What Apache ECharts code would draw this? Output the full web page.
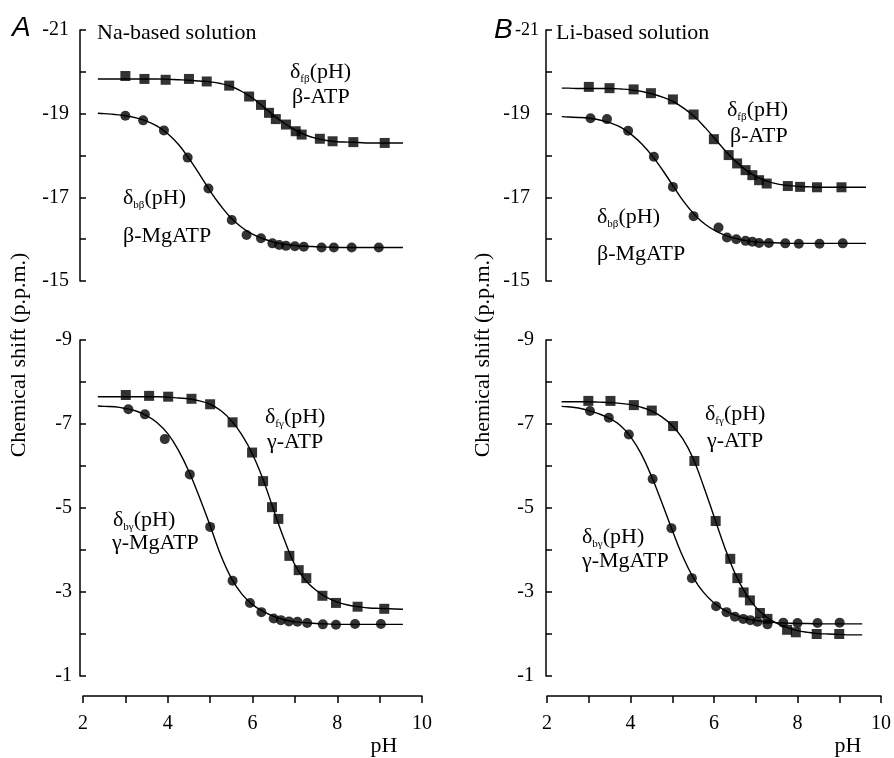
<!DOCTYPE html>
<html><head><meta charset="utf-8">
<script src="https://cdn.jsdelivr.net/npm/echarts@6.0.0/dist/echarts.min.js"></script>
<style>html,body{margin:0;padding:0;background:#fff}#c{width:894px;height:758px}</style>
</head><body><div id="c"></div>
<script>
// ---- data (pH, chemical shift in p.p.m.) ----
// Panel A: Na-based solution
const naBetaFreePts = [[3.0,-19.90],[3.45,-19.83],[3.95,-19.81],[4.5,-19.83],[4.92,-19.77],[5.45,-19.67],[5.92,-19.41],[6.2,-19.21],[6.39,-19.02],[6.55,-18.87],[6.79,-18.74],[7.02,-18.58],[7.16,-18.50],[7.59,-18.40],[7.89,-18.34],[8.38,-18.32],[9.12,-18.30]];
const naBetaMgPts = [[3.0,-18.95],[3.42,-18.84],[3.91,-18.60],[4.47,-17.95],[4.96,-17.21],[5.51,-16.46],[5.86,-16.10],[6.2,-16.02],[6.47,-15.90],[6.63,-15.86],[6.79,-15.84],[7.0,-15.83],[7.21,-15.82],[7.63,-15.80],[7.92,-15.80],[8.34,-15.80],[8.98,-15.80]];
const naGammaFreePts = [[3.01,-7.69],[3.56,-7.67],[4.01,-7.65],[4.56,-7.60],[5.0,-7.47],[5.53,-7.04],[5.99,-6.32],[6.25,-5.64],[6.46,-5.02],[6.61,-4.74],[6.87,-3.86],[7.09,-3.52],[7.27,-3.33],[7.65,-2.91],[7.97,-2.74],[8.48,-2.65],[9.11,-2.60]];
const naGammaMgPts = [[3.07,-7.35],[3.46,-7.23],[3.93,-6.64],[4.52,-5.80],[5.0,-4.55],[5.53,-3.27],[5.94,-2.74],[6.21,-2.52],[6.5,-2.37],[6.67,-2.33],[6.86,-2.30],[7.06,-2.29],[7.29,-2.26],[7.66,-2.23],[7.97,-2.22],[8.42,-2.24],[9.03,-2.24]];
// Panel B: Li-based solution
const liBetaFreePts = [[2.99,-19.64],[3.48,-19.61],[4.05,-19.58],[4.46,-19.49],[4.98,-19.34],[5.47,-18.98],[5.95,-18.39],[6.3,-18.01],[6.5,-17.81],[6.7,-17.65],[6.86,-17.53],[7.02,-17.41],[7.2,-17.33],[7.7,-17.27],[7.99,-17.25],[8.39,-17.24],[8.97,-17.24]];
const liBetaMgPts = [[3.03,-18.89],[3.42,-18.87],[3.92,-18.59],[4.53,-17.97],[4.98,-17.25],[5.47,-16.55],[6.06,-16.28],[6.26,-16.04],[6.48,-16.00],[6.7,-15.96],[6.86,-15.94],[7.02,-15.91],[7.25,-15.91],[7.64,-15.90],[7.96,-15.89],[8.45,-15.89],[9.0,-15.90]];
const liGammaFreePts = [[2.99,-7.55],[3.52,-7.55],[4.08,-7.45],[4.51,-7.32],[5.02,-6.95],[5.53,-6.12],[6.04,-4.69],[6.39,-3.79],[6.56,-3.33],[6.71,-2.99],[6.86,-2.80],[7.1,-2.50],[7.28,-2.36],[7.75,-2.10],[7.96,-2.04],[8.46,-2.00],[9.0,-2.00]];
const liGammaMgPts = [[3.03,-7.31],[3.48,-7.15],[3.96,-6.75],[4.53,-5.69],[4.98,-4.52],[5.47,-3.33],[6.05,-2.66],[6.3,-2.52],[6.5,-2.41],[6.7,-2.36],[6.87,-2.33],[7.04,-2.29],[7.28,-2.23],[7.66,-2.27],[8.0,-2.26],[8.48,-2.26],[9.01,-2.27]];

// fitted curves at these pH values
const fitX = [2.35,2.5,2.75,3,3.25,3.5,3.75,4,4.25,4.5,4.75,5,5.25,5.5,5.75,6,6.25,6.5,6.75,7,7.25,7.5,7.75,8,8.25,8.5,8.75,9,9.25,9.55];
const naBetaFreeFit = [-19.83,-19.83,-19.83,-19.83,-19.83,-19.83,-19.83,-19.82,-19.81,-19.80,-19.78,-19.76,-19.72,-19.65,-19.53,-19.37,-19.17,-18.96,-18.77,-18.61,-18.49,-18.41,-18.36,-18.33,-18.32,-18.31,-18.30,-18.30,-18.30,-18.30];
const naBetaMgFit = [-19.01,-19.00,-18.98,-18.95,-18.90,-18.82,-18.70,-18.52,-18.27,-17.93,-17.55,-17.15,-16.80,-16.50,-16.28,-16.12,-16.01,-15.93,-15.88,-15.85,-15.83,-15.82,-15.81,-15.80,-15.80,-15.80,-15.80,-15.80,-15.80,-15.80];
const naGammaFreeFit = [-7.65,-7.65,-7.65,-7.65,-7.65,-7.65,-7.65,-7.64,-7.62,-7.60,-7.55,-7.47,-7.32,-7.08,-6.74,-6.28,-5.68,-4.95,-4.25,-3.65,-3.28,-3.04,-2.87,-2.76,-2.69,-2.65,-2.62,-2.61,-2.60,-2.59];
const naGammaMgFit = [-7.43,-7.42,-7.41,-7.37,-7.31,-7.20,-7.03,-6.77,-6.38,-5.87,-5.25,-4.58,-3.88,-3.33,-2.95,-2.70,-2.54,-2.42,-2.34,-2.29,-2.27,-2.25,-2.24,-2.23,-2.23,-2.23,-2.23,-2.23,-2.23,-2.23];
const liBetaFreeFit = [-19.61,-19.61,-19.60,-19.60,-19.60,-19.60,-19.59,-19.57,-19.53,-19.47,-19.39,-19.28,-19.12,-18.92,-18.66,-18.37,-18.08,-17.83,-17.62,-17.47,-17.37,-17.31,-17.28,-17.26,-17.25,-17.24,-17.24,-17.24,-17.24,-17.24];
const liBetaMgFit = [-18.93,-18.92,-18.91,-18.89,-18.85,-18.78,-18.67,-18.50,-18.27,-17.98,-17.63,-17.25,-16.88,-16.58,-16.35,-16.19,-16.08,-16.01,-15.96,-15.93,-15.92,-15.91,-15.90,-15.90,-15.90,-15.90,-15.90,-15.90,-15.90,-15.90];
const liGammaFreeFit = [-7.53,-7.53,-7.53,-7.53,-7.52,-7.51,-7.49,-7.46,-7.40,-7.31,-7.17,-6.96,-6.65,-6.18,-5.52,-4.80,-4.08,-3.45,-2.98,-2.64,-2.41,-2.26,-2.15,-2.08,-2.04,-2.01,-2.00,-1.99,-1.98,-1.98];
const liGammaMgFit = [-7.42,-7.41,-7.38,-7.32,-7.24,-7.13,-6.97,-6.70,-6.30,-5.76,-5.13,-4.47,-3.85,-3.35,-2.99,-2.74,-2.57,-2.45,-2.37,-2.32,-2.29,-2.27,-2.26,-2.25,-2.25,-2.24,-2.24,-2.24,-2.24,-2.24];

const xRange = [2, 10];
const betaRange = [-21, -15];
const gammaRange = [-9, -1];
const yTitle = 'Chemical shift (p.p.m.)';
const xTitle = 'pH';

// ---- styling ----
const SERIF = '"Liberation Serif","Times New Roman",serif';
const INK = '#000';

const grids = [
  {left: 83, top: 30, width: 339, height: 251},
  {left: 83, top: 340, width: 339, height: 336},
  {left: 547, top: 30, width: 338, height: 251},
  {left: 547, top: 340, width: 338, height: 336}
];

function xAx(i, show) {
  return {
    type: 'value', gridIndex: i, min: xRange[0], max: xRange[1], interval: 1, show: show,
    offset: 20,
    axisLine: {show: true, lineStyle: {color: INK, width: 1.5}},
    axisTick: {show: true, inside: false, length: 7, lineStyle: {color: INK, width: 1.5}},
    axisLabel: {show: true, margin: 18, fontSize: 20, fontFamily: SERIF, color: INK,
      formatter: v => (v % 2 === 0 ? String(v) : '')},
    splitLine: {show: false}
  };
}
function yAx(i, range, offset, margin, shiftTop, topSize) {
  const lab = {fontSize: 20, fontFamily: SERIF, color: INK};
  return {
    type: 'value', gridIndex: i, min: range[0], max: range[1], interval: 1, inverse: true,
    offset: offset,
    axisLine: {show: true, lineStyle: {color: INK, width: 1.5}},
    axisTick: {show: true, inside: true, length: 6, lineStyle: {color: INK, width: 1.5}},
    axisLabel: {show: true, margin: margin, fontSize: 20, fontFamily: SERIF, color: INK,
      rich: {n: Object.assign({}, lab, {fontSize: topSize || 20}), o: Object.assign({padding: [0, shiftTop || 0, 0, 0]}, lab)},
      formatter: v => ((v - range[0]) % 2 === 0 ? (v === range[0] ? '{n|' + v + '}' : '{o|' + v + '}') : '')},
    splitLine: {show: false}
  };
}

function pts(data, i, sym) {
  return {type: 'scatter', xAxisIndex: i, yAxisIndex: i, data: data, symbol: sym,
    symbolSize: 10, itemStyle: {color: INK}, z: 3, silent: true};
}
function fit(ys, i) {
  return {type: 'line', xAxisIndex: i, yAxisIndex: i, data: fitX.map((x, k) => [x, ys[k]]), smooth: 0.4,
    showSymbol: false, symbol: 'none', lineStyle: {color: INK, width: 1.4}, z: 2, silent: true};
}

const rich = {
  a: {fontSize: 22, fontFamily: SERIF, color: INK, lineHeight: 26},
  s: {fontSize: 11, fontFamily: SERIF, color: INK, lineHeight: 14, verticalAlign: 'bottom'}
};
function label(x, y, text) {
  return {type: 'text', x: x, y: y, silent: true,
    style: {text: text, rich: rich, fill: INK, font: '22px ' + SERIF,
      textAlign: 'left', textVerticalAlign: 'middle', verticalAlign: 'middle'}};
}
function delta(sub) { return '{a|δ}{s|' + sub + '}{a|(pH)}'; }
function plain(t) { return '{a|' + t + '}'; }
function centered(x, y, t, rot) {
  return {type: 'text', x: x, y: y, rotation: rot || 0, silent: true,
    style: {text: t, font: '22px ' + SERIF, fill: INK, textAlign: 'center', align: 'center', textVerticalAlign: 'middle', verticalAlign: 'middle'}};
}

const graphics = [
  {type: 'text', x: 12, y: 28, silent: true, style: {text: 'A', font: 'italic 28px "Liberation Sans",Arial,sans-serif', fill: INK, textAlign: 'left', textVerticalAlign: 'middle', verticalAlign: 'middle'}},
  {type: 'text', x: 494, y: 30, silent: true, style: {text: 'B', font: 'italic 28px "Liberation Sans",Arial,sans-serif', fill: INK, textAlign: 'left', textVerticalAlign: 'middle', verticalAlign: 'middle'}},
  label(97, 33, plain('Na-based solution')),
  label(556, 33, plain('Li-based solution')),
  label(290, 72, delta('fβ')), label(292, 97, plain('β-ATP')),
  label(123, 198, delta('bβ')), label(123, 236, plain('β-MgATP')),
  label(265, 417, delta('fγ')), label(267, 442, plain('γ-ATP')),
  label(113, 520, delta('bγ')), label(112, 543, plain('γ-MgATP')),
  label(727, 110, delta('fβ')), label(730, 136, plain('β-ATP')),
  label(597, 217, delta('bβ')), label(597, 254, plain('β-MgATP')),
  label(705, 414, delta('fγ')), label(707, 441, plain('γ-ATP')),
  label(582, 537, delta('bγ')), label(582, 561, plain('γ-MgATP')),
  centered(19, 355, yTitle, Math.PI / 2),
  centered(483, 355, yTitle, Math.PI / 2),
  centered(384, 746, xTitle),
  centered(848, 746, xTitle)
];

const chart = echarts.init(document.getElementById('c'), null, {renderer: 'canvas'});
chart.setOption({
  animation: false,
  backgroundColor: '#fff',
  grid: grids,
  xAxis: [xAx(0, false), xAx(1, true), xAx(2, false), xAx(3, true)],
  yAxis: [yAx(0, betaRange, 3, 11), yAx(1, gammaRange, 3, 8), yAx(2, betaRange, 1, 7, 9, 18), yAx(3, gammaRange, 1, 12)],
  series: [
    fit(naBetaFreeFit, 0), fit(naBetaMgFit, 0), pts(naBetaFreePts, 0, 'rect'), pts(naBetaMgPts, 0, 'circle'),
    fit(naGammaFreeFit, 1), fit(naGammaMgFit, 1), pts(naGammaFreePts, 1, 'rect'), pts(naGammaMgPts, 1, 'circle'),
    fit(liBetaFreeFit, 2), fit(liBetaMgFit, 2), pts(liBetaFreePts, 2, 'rect'), pts(liBetaMgPts, 2, 'circle'),
    fit(liGammaFreeFit, 3), fit(liGammaMgFit, 3), pts(liGammaFreePts, 3, 'rect'), pts(liGammaMgPts, 3, 'circle')
  ],
  graphic: graphics
});
</script>
</body></html>
